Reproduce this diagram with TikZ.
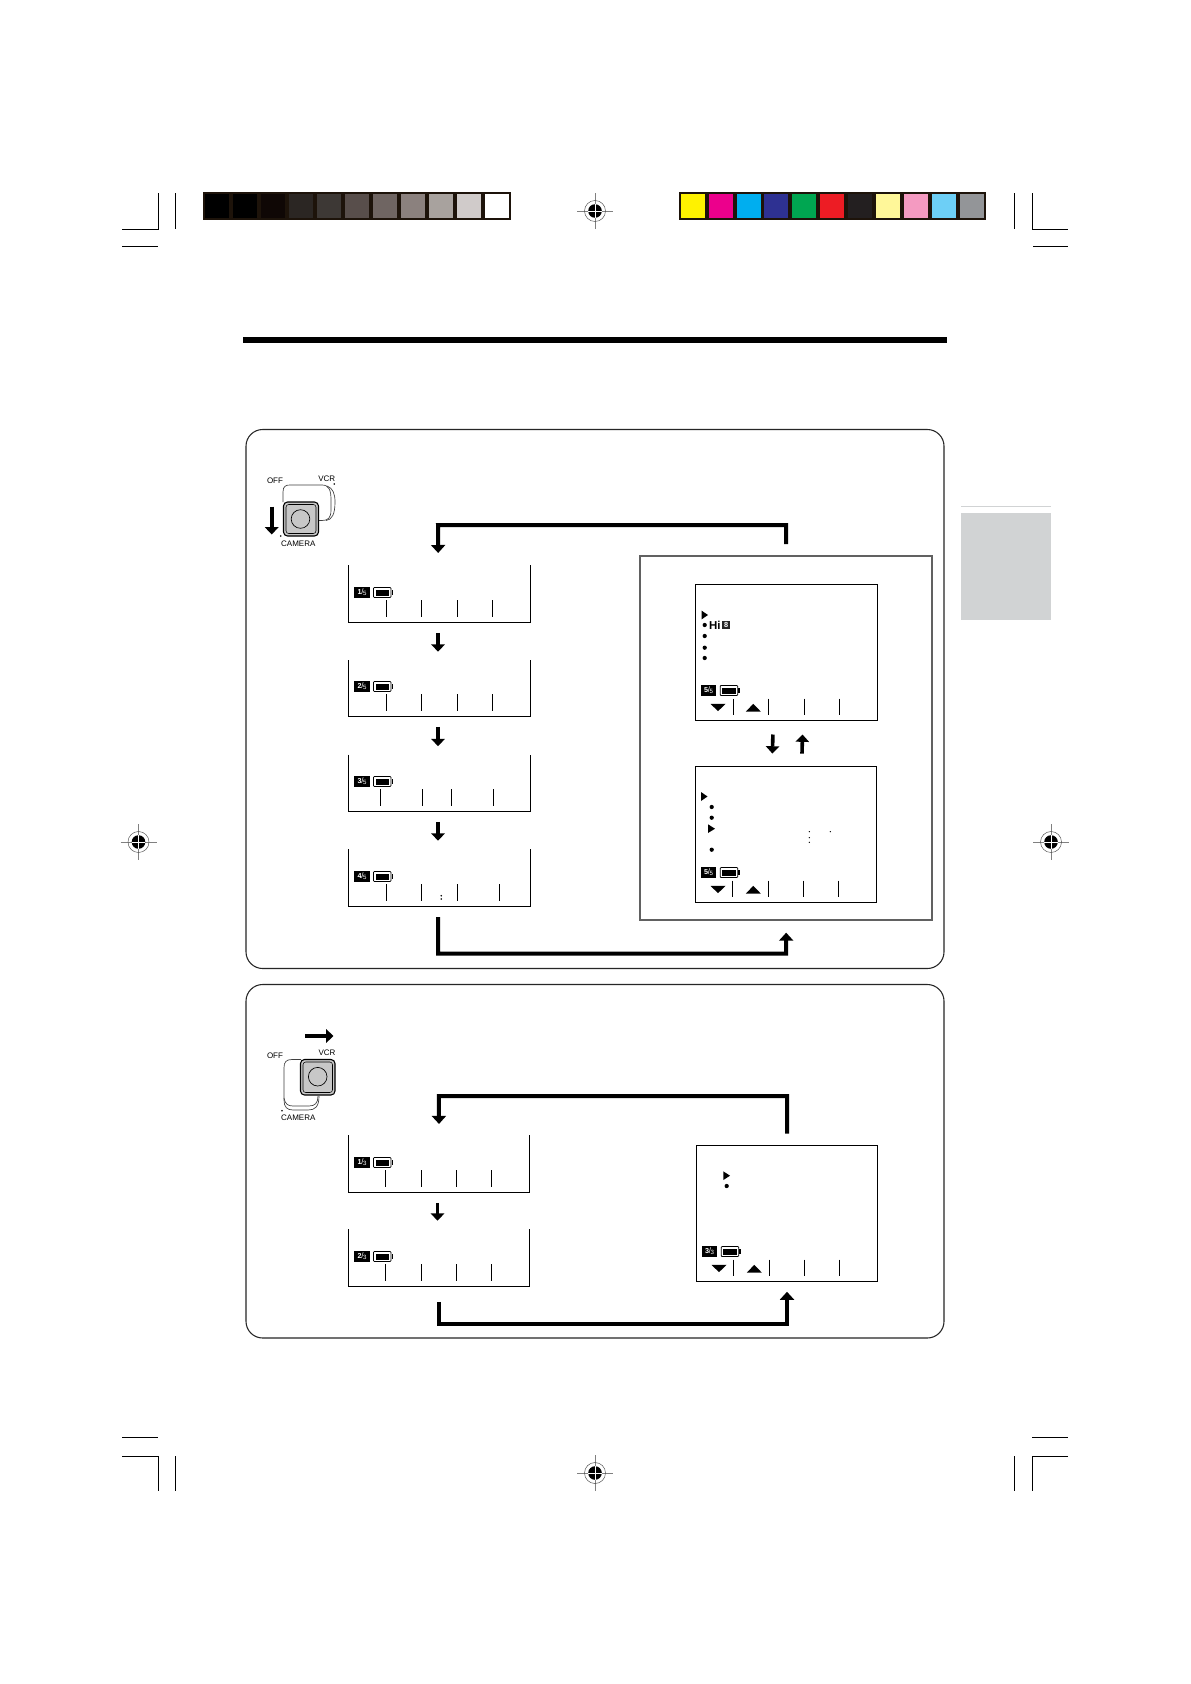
\documentclass[tikz,border=0pt]{standalone}
\usepackage{fontspec}
\setsansfont{Liberation Sans}
\usepackage{xcolor}
\usepackage{tikz}
\usetikzlibrary{positioning,arrows.meta,fit,calc}

\definecolor{tabgray}{HTML}{D1D3D4}
\newcommand{\fracmark}[2]{\raisebox{.6pt}{\fontsize{5.4}{5.4}\selectfont\bfseries #1}\kern-.1pt{\fontsize{6}{6}\selectfont/}\kern-.3pt\raisebox{-.8pt}{\fontsize{4.6}{4.6}\selectfont #2}}

\tikzset{
  batt/.pic={
    \draw[line width=.55pt, rounded corners=.6pt] (0,-5) rectangle (17.5,5);
    \fill (2.2,-3) rectangle (15.3,3);
    \fill (18,-2.5) rectangle (19.6,2.5);
  },
  softkeys/.pic={
    \fill (0,0) -- (15,0) -- (7.5,7.4) -- cycle;
    \fill (35.3,7.8) -- (50.3,7.8) -- (42.8,0) -- cycle;
  },
  regmark/.pic={
    \draw[gray, line width=.4pt] (-18,0) -- (18,0) (0,-18) -- (0,18);
    \draw[line width=.35pt, black!70] (0,0) circle (10.5);
    \fill (0,0) circle (6.8);
    \draw[white, line width=.45pt] (-6.8,0) -- (6.8,0) (0,-6.8) -- (0,6.8);
  }
}

\begin{document}
\begin{tikzpicture}[x=.75pt, y=-.75pt, font=\sffamily\fontsize{6}{6}\selectfont,
  panel/.style={draw=black!85, line width=.8pt, rounded corners=12.5pt, inner sep=0pt, outer sep=0pt},
  frame/.style={draw=black!62, line width=1.5pt, inner sep=0pt, outer sep=0pt},
  menubox/.style={draw, line width=.72pt, inner sep=0pt, outer sep=0pt},
  lcdbox/.style={inner sep=0pt, outer sep=0pt},
  lcdline/.style={line width=.72pt},
  crop/.style={line width=.6pt},
  looparr/.style={line width=3pt, miter limit=10, -{Triangle[length=6pt,width=10.5pt]}},
  stepline/.style={line width=2.7pt, -{Triangle[length=5.5pt,width=10pt]}},
  swline/.style={line width=.5pt, black!75},
  knob/.style={draw, line width=.8pt, fill=black!22, rounded corners=3pt},
  badge/.style={fill=black, text=white, inner sep=0pt, minimum width=11.4pt, minimum height=7.6pt, anchor=west},
  dotmark/.style={fill, circle, inner sep=0pt, minimum size=3.2pt},
  swlabel/.style={inner sep=0pt}]
\useasboundingbox (0,0) rectangle (1190,1684);
\fill[white] (0,0) rectangle (1190,1684);

% crop marks
\draw[crop] (158,193) -- (158,229.5) -- (122,229.5) (175,193) -- (175,229) (122,246) -- (158,246);
\draw[crop] (1014,193) -- (1014,229) (1032,193) -- (1032,229.5) -- (1068,229.5) (1033,246) -- (1068,246);
\draw[crop] (122,1437) -- (158,1437) (122,1456) -- (158,1456) -- (158,1491) (175,1456) -- (175,1491);
\draw[crop] (1032,1437) -- (1068,1437) (1068,1456) -- (1032,1456) -- (1032,1491) (1014,1456) -- (1014,1491);
\pic at (595,211) {regmark};
\pic at (138.5,842) {regmark};
\pic at (1051,842) {regmark};
\pic at (595,1473) {regmark};

% colour bars
\fill[black!85!brown] (203,192) rectangle (511,220);
\foreach \c [count=\i from 0] in {000000,000000,0F0705,2B2623,3D3835,584E4B,6F6562,8B817E,A8A29E,D0CBCA,FFFFFF} {
  \definecolor{sw}{HTML}{\c}
  \fill[sw] ({205+28*\i},194) rectangle ({229+28*\i},218);
}
\fill[black!85!brown] (679,192) rectangle (986,220);
\foreach \sx/\c in {681/FFF200,709/EC008C,737/00AEEF,764/2E3192,792/00A651,820/ED1C24,848/231F20,876/FFF799,904/F49AC1,932/6DCFF6,960/939598} {
  \definecolor{sw}{HTML}{\c}
  \fill[sw] (\sx,194) rectangle (\sx+24,218);
}

% page rule and side tab
\fill (243,337) rectangle (947,343);
\draw[tabgray, line width=.7pt] (961,506.5) -- (1051,506.5);
\fill[tabgray] (961,513) rectangle (1051,620);

% panels
\node[panel, fit={(246,429.5)(944,968.5)}] (panelA) {};
\node[panel, fit={(246,984.5)(944,1338)}] (panelB) {};
\node[frame, fit={(640,555.7)(932.3,920)}] (menuframe) {};

% switch, camera side
\draw[swline] (283,502) -- (283,492) .. controls (283,486) and (286,485) .. (290,485) -- (322,485) .. controls (329,485) and (331,490) .. (331,500) -- (331,510) .. controls (331,518) and (328,520.5) .. (322,520.5) -- (318,520.5);
\draw[swline] (327,486) .. controls (333,488) and (335,494) .. (335,502) .. controls (335,514) and (332,520) .. (326,520.5);
\draw[knob] (283.5,502) rectangle (318.5,536);
\draw[line width=.4pt, rounded corners=2pt] (286,504.5) rectangle (316,533.5);
\draw[line width=.5pt] (300.5,519) circle (9.3);
\fill (334.3,484) circle (.9) (280.7,536) circle (.9);
\node[swlabel] (offA) at (275,480.7) {OFF};
\node[swlabel] (vcrA) at (326.7,478.3) {VCR};
\node[swlabel] (camA) at (298.3,543.3) {CAMERA};
\coordinate (pushA) at (271.7,506.7);
\coordinate (pushB) at (271.7,534.5);
\draw[stepline] (pushA) -- (pushB);

% switch, vcr side
\draw[swline] (301,1059.5) -- (292,1059.5) .. controls (286,1059.5) and (284,1062) .. (284,1068) -- (284,1100) .. controls (284,1107) and (287,1110) .. (293,1110) -- (308,1110) .. controls (315,1110) and (319,1107) .. (319,1096);
\draw[swline] (284,1098) .. controls (285,1104) and (288,1106) .. (293,1106) -- (309,1106) .. controls (315,1106) and (318,1103) .. (318,1096);
\draw[knob] (300.5,1059.5) rectangle (335,1095);
\draw[line width=.4pt, rounded corners=2pt] (303,1062) rectangle (332.5,1092.5);
\draw[line width=.5pt] (317.7,1076.7) circle (9.3);
\fill (282,1110.7) circle (.9);
\node[swlabel] (offB) at (275,1056) {OFF};
\node[swlabel] (vcrB) at (327,1052.7) {VCR};
\node[swlabel] (camB) at (298.3,1118) {CAMERA};
\coordinate (pushC) at (305,1036);
\coordinate (pushD) at (333.5,1036);
\draw[stepline] (pushC) -- (pushD);

% open displays
\foreach \nm/\lf/\rt/\tp/\bt/\fa/\fb/\tk in {
  lcdA/348.5/530.5/565/622.5/1/5/{386.5,421.5,457.5,492.5},
  lcdB/348.5/530.5/660/716.5/2/5/{386.5,421.5,457.5,492.5},
  lcdC/348.5/530.5/754.5/811.5/3/5/{380.5,422.5,451.5,493.5},
  lcdD/348.5/530.5/849/906.5/4/5/{386.5,421.5,457.5,499.5},
  lcdE/348.5/529.5/1135/1192.5/1/3/{385.5,421.5,456.5,491.5},
  lcdF/348.5/529.5/1229/1286.5/2/3/{385.5,421.5,456.5,491.5}} {
  \node[lcdbox, fit={(\lf,\tp)(\rt,\bt)}] (\nm) {};
  \draw[lcdline] (\nm.north west) -- (\nm.south west) -- (\nm.south east) -- (\nm.north east);
  \node[badge] (\nm-frac) at (\lf+5.7,\bt-30) {\fracmark{\fa}{\fb}};
  \pic at (\lf+25,\bt-30) {batt};
  \foreach \tx in \tk {\draw[lcdline] (\tx,\bt-22.3) -- (\tx,\bt-5.5);}
}
\fill (441.3,895.7) circle (.9) (441.3,899) circle (.9);

% closed displays
\foreach \nm/\lf/\rt/\tp/\bt/\fa/\fb/\tk in {
  menuA/695.5/877.5/584.5/720.5/5/5/{733.5,768.5,804.5,839.5},
  menuB/695.5/876.5/766.5/902.5/5/5/{732.5,768.5,803.5,838.5},
  menuC/696.5/877.5/1145.5/1281.5/3/3/{733.5,769.5,804.5,839.5}} {
  \node[menubox, fit={(\lf,\tp)(\rt,\bt)}] (\nm) {};
  \node[badge] (\nm-frac) at (\lf+5.2,\bt-30) {\fracmark{\fa}{\fb}};
  \pic at (\lf+24.7,\bt-30) {batt};
  \pic at (\lf+15,\bt-16.7) {softkeys};
  \foreach \tx in \tk {\draw[lcdline] (\tx,\bt-22) -- (\tx,\bt-5.3);}
}

% menu marks
\fill (701.7,610.7) -- (708,615) -- (701.7,619.3) -- cycle;
\foreach \my in {625,636,647.7,658} {\node[dotmark] (dotA\my) at (704.7,\my) {};}
\node[inner sep=0pt, anchor=west, font=\sffamily\bfseries\fontsize{8.6}{8.6}\selectfont] (hilabel) at (708.8,625) {Hi};
\node[fill=black!85, text=white, inner sep=0pt, minimum width=6pt, minimum height=6pt, font=\sffamily\bfseries\fontsize{5.5}{5.5}\selectfont, right=.8pt of hilabel] (eightlabel) {8};
\fill (701,792) -- (707.5,796.5) -- (701,801) -- cycle;
\fill (708,824.3) -- (715,828.7) -- (708,833) -- cycle;
\foreach \my in {807,817.7,849.7} {\node[dotmark] (dotB\my) at (711.7,\my) {};}
\fill (809.3,831.7) circle (.7) (809.3,837.7) circle (.7) (809.3,842.3) circle (.7) (830.3,831.7) circle (.7);
\fill (723.3,1171.3) -- (730,1175.7) -- (723.3,1180) -- cycle;
\node[dotmark] (dotC) at (726.7,1186) {};

% step arrows
\foreach \up/\dn in {lcdA/lcdB,lcdB/lcdC,lcdC/lcdD,lcdE/lcdF}
  \draw[stepline] ([xshift=-1.1pt,yshift=-7.8pt]\up.south) -- ([xshift=-1.1pt,yshift=6.2pt]\dn.north);
\draw[stepline] ([xshift=-10.2pt,yshift=-10.5pt]menuA.south) -- ([xshift=-10.2pt,yshift=9.7pt]menuB.north);
\draw[stepline] ([xshift=12pt,yshift=9.7pt]menuB.north) -- ([xshift=12pt,yshift=-10.5pt]menuA.south);

% return loops
\coordinate (topA) at (438,525);
\coordinate (botA) at (786.2,953.7);
\coordinate (topB) at (438.8,1096);
\coordinate (botB) at (787,1323.7);
\draw[looparr] ([yshift=8.7pt]menuframe.north) |- (topA) -- ([xshift=-1pt,yshift=9pt]lcdA.north);
\draw[looparr] ([xshift=-1pt,yshift=-8pt]lcdD.south) |- (botA) -- ([yshift=-9.5pt]menuframe.south);
\draw[looparr] ([yshift=9pt]menuC.north) |- (topB) -- ([yshift=8.3pt]lcdE.north);
\draw[looparr] ([yshift=-11.5pt]lcdF.south) |- (botB) -- ([yshift=-7.7pt]menuC.south);
\end{tikzpicture}
\end{document}
